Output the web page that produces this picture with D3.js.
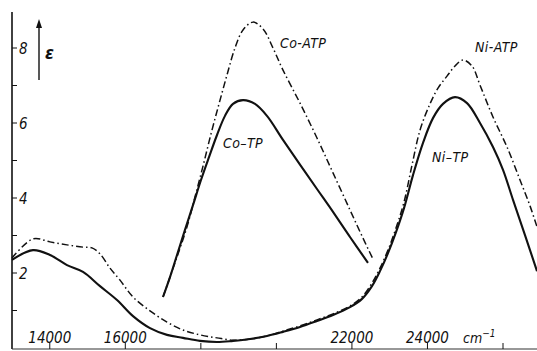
<!DOCTYPE html>
<html>
<head>
<meta charset="utf-8">
<script src="https://cdn.jsdelivr.net/npm/d3@7"></script>
<style>
  body { margin: 0; background: #fff; }
  svg text { font-family: "Liberation Sans Narrow", "DejaVu Sans Condensed", "Liberation Sans", sans-serif; font-style: italic; fill: #111; }
</style>
</head>
<body>
<div id="chart"></div>
<script>
var width = 537, height = 351;

// wavenumber (cm-1), epsilon
var niTP = [[13000,2.35],[13556,2.61],[14006,2.48],[14456,2.21],[14880,2.03],[15330,1.65],[15780,1.28],[16204,0.85],[16654,0.53],[17104,0.35],[17527,0.27],[17977,0.19],[18428,0.16],[18851,0.19],[19301,0.24],[19751,0.32],[20175,0.43],[20625,0.56],[21075,0.72],[21499,0.88],[21949,1.09],[22267,1.31],[22531,1.65],[22743,2.05],[22955,2.53],[23167,3.09],[23379,3.73],[23617,4.61],[23882,5.47],[24146,6.13],[24411,6.51],[24729,6.69],[25047,6.53],[25391,6.00],[25735,5.36],[26000,4.75],[26265,3.95],[26582,3.01],[26900,2.05]];
var niATP = [[13000,2.40],[13556,2.91],[14006,2.83],[14456,2.75],[14880,2.69],[15118,2.67],[15330,2.51],[15595,2.13],[15860,1.81],[16204,1.36],[16654,0.99],[17104,0.69],[17527,0.48],[17977,0.35],[18428,0.27],[18851,0.21],[19301,0.24],[19751,0.32],[20175,0.45],[20625,0.59],[21075,0.75],[21499,0.91],[21949,1.12],[22267,1.36],[22531,1.73],[22743,2.13],[22955,2.61],[23167,3.20],[23379,3.89],[23591,4.88],[23803,5.81],[24067,6.51],[24279,6.93],[24517,7.25],[24729,7.52],[24941,7.68],[25179,7.52],[25391,7.01],[25735,6.16],[26106,5.36],[26450,4.48],[26715,3.79],[26900,3.23]];
var coTP = [[16998,1.36],[17183,1.89],[17369,2.48],[17580,3.15],[17792,3.81],[18004,4.48],[18216,5.09],[18428,5.68],[18639,6.19],[18851,6.51],[19116,6.61],[19434,6.51],[19751,6.19],[20175,5.55],[20625,4.89],[21075,4.24],[21499,3.63],[21949,2.96],[22425,2.27]];
var coATP = [[16998,1.36],[17369,2.43],[17633,3.23],[17845,4.03],[18057,4.85],[18269,5.71],[18481,6.51],[18692,7.28],[18904,8.00],[19116,8.48],[19381,8.69],[19646,8.51],[19910,8.00],[20175,7.41],[20625,6.53],[21075,5.60],[21499,4.67],[21949,3.68],[22293,2.93],[22558,2.37]];

var xTicks = [14000, 16000, 18000, 20000, 22000, 24000, 26000];
var xTickLabels = ["14000", "16000", "", "", "22000", "24000", ""];
var yTicks = [1, 2, 3, 4, 5, 6, 7, 8];
var yTickLabels = ["", "2", "", "4", "", "6", "", "8"];

var svg = d3.select("#chart")
    .append("svg")
    .attr("width", width)
    .attr("height", height);

var x = d3.scaleLinear()
    .domain([13000, 26900])
    .range([12, 537]);

var y = d3.scaleLinear()
    .domain([0, 8.96])
    .range([348, 12]);

// axes lines
svg.append("line")
    .attr("x1", 12).attr("x2", 12)
    .attr("y1", 12).attr("y2", 349)
    .attr("stroke", "#111")
    .attr("stroke-width", 1.6);

svg.append("line")
    .attr("x1", 12).attr("x2", width)
    .attr("y1", 349).attr("y2", 349)
    .attr("stroke", "#333")
    .attr("stroke-width", 1.2);

// y ticks, drawn inward
svg.selectAll(".ytick")
    .data(yTicks)
    .enter()
    .append("line")
    .attr("class", "ytick")
    .attr("x1", 12).attr("x2", 17)
    .attr("y1", function (d) { return y(d); })
    .attr("y2", function (d) { return y(d); })
    .attr("stroke", "#111")
    .attr("stroke-width", 1);

svg.selectAll(".ylabel")
    .data(yTicks)
    .enter()
    .append("text")
    .attr("class", "ylabel")
    .attr("x", 19)
    .attr("y", function (d) { return y(d) + 6; })
    .attr("font-size", 15)
    .text(function (d, i) { return yTickLabels[i]; });

// x ticks, drawn upward
svg.selectAll(".xtick")
    .data(xTicks)
    .enter()
    .append("line")
    .attr("class", "xtick")
    .attr("x1", function (d) { return x(d); })
    .attr("x2", function (d) { return x(d); })
    .attr("y1", 349).attr("y2", 343)
    .attr("stroke", "#111")
    .attr("stroke-width", 1);

svg.selectAll(".xlabel")
    .data(xTicks)
    .enter()
    .append("text")
    .attr("class", "xlabel")
    .attr("x", function (d) { return x(d); })
    .attr("y", 343)
    .attr("text-anchor", "middle")
    .attr("font-size", 15)
    .text(function (d, i) { return xTickLabels[i]; });

var unit = svg.append("text")
    .attr("x", 463)
    .attr("y", 343)
    .attr("font-size", 14);
unit.append("tspan").text("cm");
unit.append("tspan").attr("dy", -6).attr("font-size", 10).text("−1");

// epsilon arrow
svg.append("line")
    .attr("x1", 39).attr("x2", 39)
    .attr("y1", 80).attr("y2", 26)
    .attr("stroke", "#111")
    .attr("stroke-width", 1.4);
svg.append("path")
    .attr("d", "M36,28 L39,19 L42,28 Z")
    .attr("fill", "#111");
svg.append("text")
    .attr("x", 45)
    .attr("y", 59)
    .attr("font-size", 18)
    .attr("font-weight", "bold")
    .text("ε");

var line = d3.line()
    .x(function (d) { return x(d[0]); })
    .y(function (d) { return y(d[1]); })
    .curve(d3.curveCatmullRom.alpha(0.5));

var series = [
    { data: niTP, dash: null, w: 2.1 },
    { data: niATP, dash: "7,3,1.5,3", w: 1.5 },
    { data: coTP, dash: null, w: 2.1 },
    { data: coATP, dash: "7,3,1.5,3", w: 1.5 }
];

svg.selectAll(".curve")
    .data(series)
    .enter()
    .append("path")
    .attr("class", "curve")
    .attr("d", function (d) { return line(d.data); })
    .attr("fill", "none")
    .attr("stroke", "#111")
    .attr("stroke-width", function (d) { return d.w; })
    .attr("stroke-dasharray", function (d) { return d.dash; });

// curve labels
var labels = [
    { t: "Co-ATP", x: 280, y: 48 },
    { t: "Co–TP", x: 223, y: 148 },
    { t: "Ni-ATP", x: 475, y: 52 },
    { t: "Ni–TP", x: 432, y: 162 }
];

svg.selectAll(".clabel")
    .data(labels)
    .enter()
    .append("text")
    .attr("class", "clabel")
    .attr("x", function (d) { return d.x; })
    .attr("y", function (d) { return d.y; })
    .attr("font-size", 14)
    .attr("letter-spacing", 0.4)
    .text(function (d) { return d.t; });
</script>
</body>
</html>
